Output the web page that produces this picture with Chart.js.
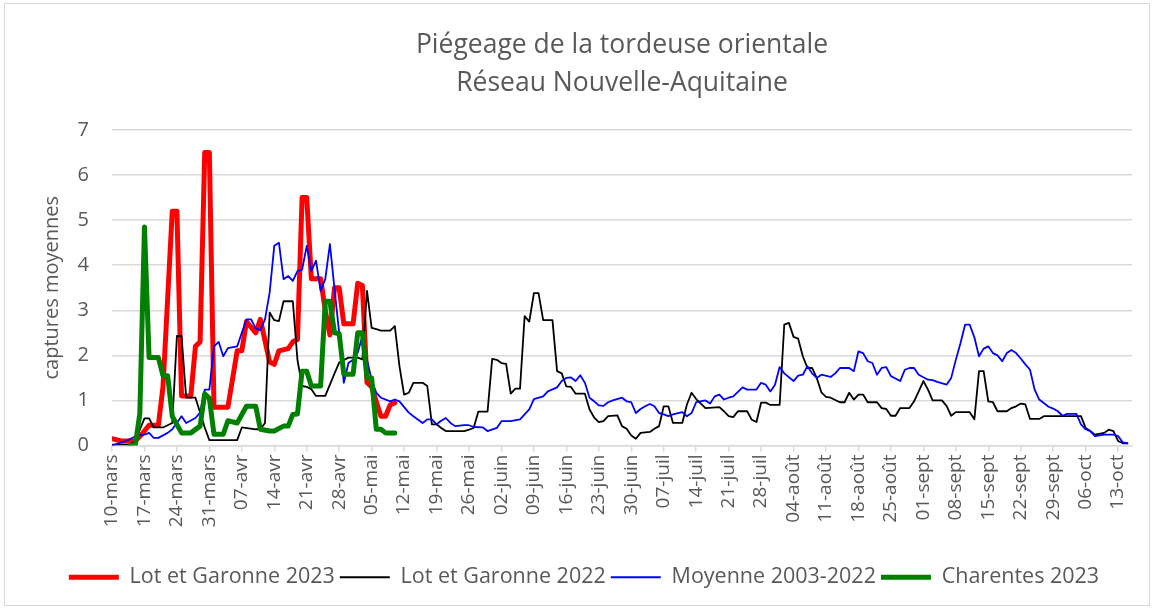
<!DOCTYPE html>
<html>
<head>
<meta charset="utf-8">
<script src="https://cdn.jsdelivr.net/npm/chart.js@4/dist/chart.umd.min.js"></script>
<style>
  html, body { margin: 0; padding: 0; background: #fff; }
  #wrap { width: 1154px; height: 609px; }
</style>
</head>
<body>
<div id="wrap"><canvas id="chart" width="1154" height="609"></canvas></div>
<script>
var titleLines = ['Piégeage de la tordeuse orientale', 'Réseau Nouvelle-Aquitaine']
var seriesNames = ['Lot et Garonne 2023', 'Lot et Garonne 2022', 'Moyenne 2003-2022', 'Charentes 2023']

// one tick every 7 days, day 0 = 10 mars
var tickLabels = ['10-mars', '17-mars', '24-mars', '31-mars', '07-avr', '14-avr', '21-avr', '28-avr',
  '05-mai', '12-mai', '19-mai', '26-mai', '02-juin', '09-juin', '16-juin', '23-juin', '30-juin',
  '07-juil', '14-juil', '21-juil', '28-juil', '04-août', '11-août', '18-août', '25-août',
  '01-sept', '08-sept', '15-sept', '22-sept', '29-sept', '06-oct', '13-oct']

var redDays = [0, 2, 5, 6, 8, 10, 11, 13, 14, 15, 17, 18, 19, 20, 21, 22, 25, 27, 28, 29, 31, 32, 34, 35, 36,
  38, 39, 40, 41, 42, 43, 45, 46, 47, 48, 49, 50, 52, 53, 54, 55, 56, 58, 59, 60, 61]
var redValues = [0.15, 0.1, 0.1, 0.2, 0.45, 0.45, 1.3, 5.2, 5.2, 1.1, 1.1, 2.2, 2.3, 6.5, 6.5, 0.85, 0.85, 2.1, 2.1,
  2.75, 2.5, 2.8, 1.85, 1.8, 2.1, 2.15, 2.3, 2.35, 5.5, 5.5, 3.7, 3.7, 3.0, 2.45, 3.5, 3.5, 2.7, 2.7, 3.6, 3.55,
  1.4, 1.3, 0.65, 0.65, 0.9, 0.95]

var blackDays = [0, 4, 5, 7, 8, 9, 11, 13, 14, 15, 16, 18, 19, 20, 21, 27, 28, 31, 32, 33, 34, 35, 36, 37, 39,
  40, 41, 42, 43, 44, 46, 48, 49, 51, 53, 54, 55, 56, 57, 58, 60, 61, 62, 63, 64, 65, 67, 68, 69, 70, 71, 72,
  73, 74, 76, 77, 78, 79, 81, 82, 83, 84, 85, 86, 87, 88, 89, 90, 91, 92, 93, 95, 96, 97, 98, 99, 100, 102,
  103, 104, 105, 106, 107, 109, 110, 111, 112, 113, 114, 116, 117, 118, 119, 120, 121, 123, 124, 125, 126,
  127, 128, 131, 132, 133, 134, 135, 137, 138, 139, 140, 141, 142, 144, 145, 146, 147, 148, 149, 150, 151,
  152, 153, 154, 155, 157, 158, 159, 160, 161, 162, 163, 165, 166, 167, 168, 169, 170, 172, 173, 174, 175,
  176, 177, 179, 180, 181, 182, 185, 186, 187, 188, 189, 190, 191, 193, 194, 195, 196, 197, 198, 200, 201,
  209, 210, 211, 212, 214, 215, 216, 217, 218, 219]
var blackValues = [0.02, 0.02, 0.1, 0.6, 0.6, 0.4, 0.4, 0.5, 2.43, 2.43, 1.06, 1.06, 0.73, 0.4, 0.12, 0.12, 0.4,
  0.36, 0.36, 0.5, 2.95, 2.78, 2.76, 3.2, 3.2, 1.9, 1.32, 1.3, 1.25, 1.1, 1.1, 1.6, 1.84, 1.95, 1.95, 1.91,
  3.43, 2.61, 2.58, 2.55, 2.55, 2.65, 1.76, 1.13, 1.17, 1.39, 1.39, 1.32, 0.47, 0.47, 0.39, 0.32, 0.32, 0.32,
  0.32, 0.35, 0.39, 0.75, 0.75, 1.92, 1.9, 1.83, 1.81, 1.15, 1.26, 1.26, 2.87, 2.75, 3.38, 3.38, 2.78, 2.78,
  1.65, 1.6, 1.31, 1.3, 1.15, 1.15, 0.8, 0.62, 0.52, 0.54, 0.65, 0.67, 0.43, 0.37, 0.22, 0.15, 0.28, 0.3,
  0.37, 0.43, 0.87, 0.87, 0.5, 0.5, 0.91, 1.17, 1.03, 0.93, 0.83, 0.85, 0.76, 0.65, 0.63, 0.76, 0.76, 0.57,
  0.52, 0.95, 0.95, 0.9, 0.9, 2.68, 2.72, 2.41, 2.37, 1.98, 1.72, 1.72, 1.5, 1.18, 1.08, 1.06, 0.96, 0.96,
  1.17, 1.02, 1.13, 1.13, 0.96, 0.96, 0.83, 0.81, 0.66, 0.66, 0.83, 0.83, 0.98, 1.2, 1.43, 1.24, 1.0, 1.0,
  0.88, 0.66, 0.74, 0.74, 0.58, 1.65, 1.65, 0.98, 0.96, 0.76, 0.76, 0.83, 0.87, 0.93, 0.91, 0.59, 0.59, 0.65,
  0.65, 0.39, 0.32, 0.24, 0.28, 0.35, 0.32, 0.1, 0.05, 0.05]

var blueDays = [0, 3, 5, 7, 8, 9, 10, 12, 13, 15, 16, 18, 19, 20, 21, 22, 23, 24, 25, 27, 28, 29, 30, 31, 32,
  33, 34, 35, 36, 37, 38, 39, 40, 41, 42, 43, 44, 45, 46, 47, 48, 49, 50, 51, 52, 53, 54, 55, 56, 57, 58, 60,
  61, 62, 64, 65, 67, 68, 69, 70, 71, 72, 73, 74, 76, 77, 78, 80, 81, 83, 84, 86, 88, 89, 90, 91, 93, 94, 96,
  97, 98, 99, 100, 101, 102, 103, 104, 105, 106, 107, 108, 110, 111, 112, 113, 114, 115, 116, 117, 118, 119,
  120, 121, 123, 124, 125, 126, 128, 129, 130, 131, 132, 133, 134, 136, 137, 139, 140, 141, 142, 143, 144,
  145, 147, 148, 149, 150, 151, 152, 153, 155, 156, 157, 159, 160, 161, 162, 163, 164, 165, 166, 167, 168,
  170, 171, 172, 173, 174, 176, 177, 178, 180, 181, 182, 183, 184, 185, 186, 187, 188, 189, 190, 191, 192,
  193, 194, 195, 196, 197, 198, 199, 200, 202, 203, 204, 205, 206, 208, 209, 210, 211, 212, 214, 216, 217,
  218, 219]
var blueValues = [0, 0.1, 0.2, 0.24, 0.28, 0.17, 0.17, 0.28, 0.36, 0.65, 0.5, 0.61, 0.73, 1.24, 1.24, 2.2, 2.3,
  1.98, 2.16, 2.2, 2.5, 2.8, 2.8, 2.6, 2.56, 2.8, 3.39, 4.43, 4.5, 3.69, 3.76, 3.65, 3.87, 3.9, 4.43, 3.87,
  4.1, 3.43, 3.69, 4.47, 3.47, 2.5, 1.39, 1.83, 1.9, 2.06, 2.43, 1.9, 1.46, 1.17, 1.06, 0.98, 1.02, 0.98,
  0.73, 0.65, 0.5, 0.58, 0.58, 0.47, 0.55, 0.61, 0.5, 0.43, 0.45, 0.45, 0.41, 0.4, 0.32, 0.39, 0.54, 0.54,
  0.58, 0.69, 0.8, 1.03, 1.09, 1.2, 1.29, 1.43, 1.5, 1.51, 1.43, 1.56, 1.39, 1.06, 0.98, 0.89, 0.88, 0.96,
  1.0, 1.06, 0.98, 0.96, 0.72, 0.81, 0.87, 0.92, 0.87, 0.72, 0.69, 0.65, 0.69, 0.74, 0.65, 0.72, 0.96, 1.0,
  0.93, 1.09, 1.13, 1.02, 1.06, 1.09, 1.29, 1.24, 1.24, 1.39, 1.35, 1.2, 1.35, 1.74, 1.6, 1.43, 1.55, 1.57,
  1.76, 1.6, 1.5, 1.57, 1.52, 1.6, 1.72, 1.72, 1.65, 2.09, 2.05, 1.87, 1.83, 1.57, 1.72, 1.74, 1.54, 1.43,
  1.68, 1.72, 1.72, 1.57, 1.46, 1.45, 1.41, 1.35, 1.5, 1.9, 2.27, 2.68, 2.68, 2.4, 1.98, 2.15, 2.2, 2.05,
  2.0, 1.87, 2.05, 2.12, 2.05, 1.93, 1.8, 1.68, 1.24, 1.02, 0.86, 0.82, 0.76, 0.66, 0.7, 0.7, 0.47, 0.36,
  0.32, 0.21, 0.24, 0.24, 0.21, 0.07, 0.05]

var greenDays = [4, 5, 6, 7, 8, 10, 11, 12, 13, 15, 17, 19, 20, 21, 22, 24, 25, 27, 29, 31, 32, 34, 35, 37, 38,
  39, 40, 41, 42, 43, 45, 46, 47, 48, 49, 50, 52, 53, 54, 55, 56, 57, 58, 59, 61]
var greenValues = [0, 0, 0.7, 4.85, 1.95, 1.95, 1.55, 1.55, 0.65, 0.28, 0.28, 0.43, 1.15, 1.05, 0.25, 0.25, 0.55,
  0.5, 0.87, 0.87, 0.36, 0.32, 0.32, 0.43, 0.43, 0.69, 0.7, 1.65, 1.65, 1.32, 1.32, 3.2, 3.2, 2.5, 2.48, 1.58,
  1.58, 2.5, 2.5, 1.5, 1.5, 0.36, 0.36, 0.28, 0.28]

var textColor = '#595959'
var gridColor = '#d9d9d9'
var fontFamily = "'Open Sans', 'Liberation Sans', sans-serif"

function toPoints (days, values) {
  return days.map(function (d, i) { return { x: d, y: values[i] } })
}

function makeSeries (label, days, values, color, width, order) {
  return {
    label: label,
    data: toPoints(days, values),
    borderColor: color,
    backgroundColor: color,
    borderWidth: width,
    pointRadius: 0,
    pointHoverRadius: 0,
    tension: 0,
    borderJoinStyle: 'round',
    borderCapStyle: 'round',
    order: order
  }
}

// draws the two title lines over the plot area, plus white background and frame
var decorPlugin = {
  id: 'decor',
  beforeDraw: function (chart) {
    var ctx = chart.ctx
    ctx.save()
    ctx.fillStyle = '#ffffff'
    ctx.fillRect(0, 0, chart.width, chart.height)
    ctx.strokeStyle = gridColor
    ctx.lineWidth = 1
    ctx.strokeRect(4.5, 3.5, chart.width - 9, chart.height - 7)
    ctx.restore()
  },
  afterDraw: function (chart) {
    var ctx = chart.ctx
    var area = chart.chartArea
    var cx = (area.left + area.right) / 2
    ctx.save()
    ctx.fillStyle = textColor
    ctx.font = '26.5px ' + fontFamily
    ctx.textAlign = 'center'
    ctx.textBaseline = 'middle'
    ctx.fillText(titleLines[0], cx, 45)
    ctx.fillText(titleLines[1], cx, 83)
    ctx.restore()
  }
}

var chart = new Chart(document.getElementById('chart'), {
  type: 'line',
  data: {
    datasets: [
      makeSeries(seriesNames[0], redDays, redValues, '#ff0000', 5, 4),
      makeSeries(seriesNames[1], blackDays, blackValues, '#000000', 1.8, 3),
      makeSeries(seriesNames[2], blueDays, blueValues, '#0000ff', 1.8, 2),
      makeSeries(seriesNames[3], greenDays, greenValues, '#008000', 5, 1)
    ]
  },
  plugins: [decorPlugin],
  options: {
    responsive: false,
    animation: false,
    events: [],
    layout: { padding: { top: 130, left: 36, right: 22, bottom: 11 } },
    plugins: {
      title: { display: false },
      tooltip: { enabled: false },
      legend: {
        position: 'bottom',
        labels: {
          usePointStyle: true,
          pointStyle: 'line',
          pointStyleWidth: 50,
          padding: 5,
          color: textColor,
          font: { family: fontFamily, size: 21.5 },
          sort: function (a, b) { return a.datasetIndex - b.datasetIndex }
        }
      }
    },
    scales: {
      x: {
        type: 'linear',
        min: 0,
        max: 220,
        afterBuildTicks: function (scale) {
          scale.ticks = tickLabels.map(function (l, i) { return { value: i * 7 } })
        },
        afterFit: function (scale) { scale.height = 116 },
        ticks: {
          autoSkip: false,
          maxRotation: 90,
          minRotation: 90,
          padding: 3,
          color: textColor,
          font: { family: fontFamily, size: 19 },
          callback: function (v) { return tickLabels[Math.round(v / 7)] }
        },
        grid: {
          drawOnChartArea: false,
          drawTicks: true,
          tickLength: 6,
          color: gridColor,
          lineWidth: 1.5
        },
        border: { display: true, color: gridColor, width: 1.5 }
      },
      y: {
        min: 0,
        max: 7,
        afterFit: function (scale) { scale.width = 76 },
        ticks: {
          stepSize: 1,
          padding: 23,
          color: textColor,
          font: { family: fontFamily, size: 20 }
        },
        grid: { drawTicks: false, color: gridColor, lineWidth: 1.5 },
        border: { display: false },
        title: {
          display: true,
          text: 'captures moyennes',
          color: textColor,
          font: { family: fontFamily, size: 20 },
          padding: { top: 4, bottom: 4 }
        }
      }
    }
  }
})
</script>
</body>
</html>
